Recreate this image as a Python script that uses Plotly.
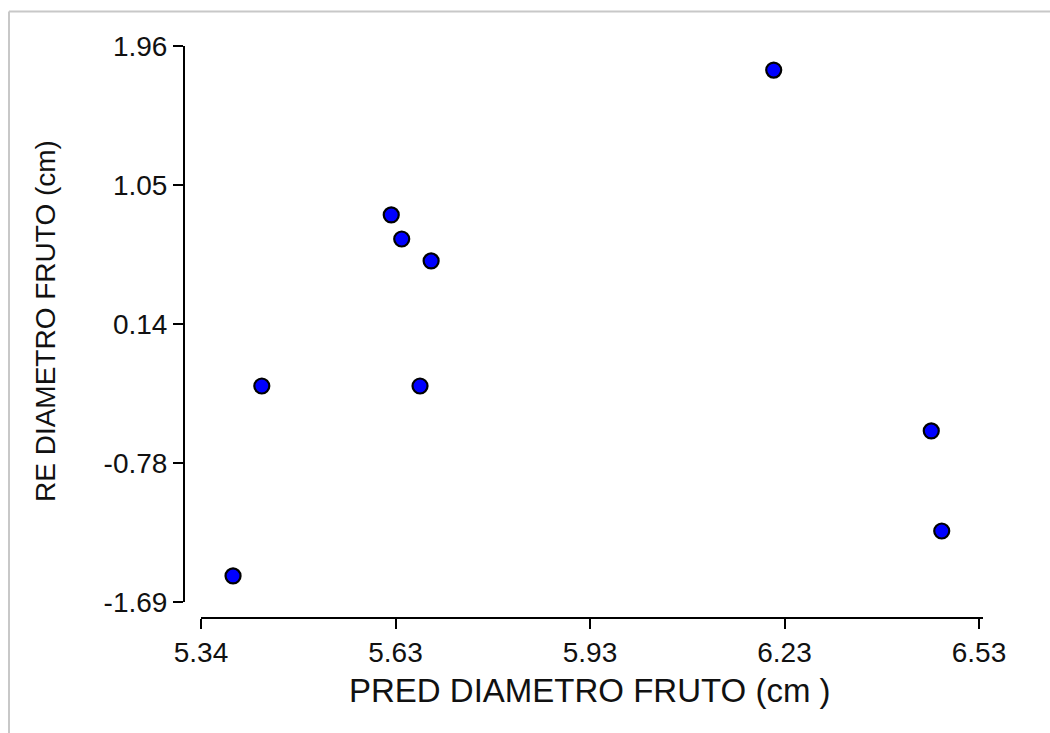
import plotly.graph_objects as go
import numpy as np

# Data
pred_diametro = [5.389, 5.433, 5.631, 5.647, 5.692, 5.675, 6.216, 6.457, 6.473]
re_diametro = [-1.519, -0.272, 0.851, 0.693, 0.549, -0.272, 1.802, -0.567, -1.224]

x_tick_labels = ["5.34", "5.63", "5.93", "6.23", "6.53"]
y_tick_labels = ["-1.69", "-0.78", "0.14", "1.05", "1.96"]
x_title = "PRED DIAMETRO FRUTO (cm )"
y_title = "RE DIAMETRO FRUTO (cm)"

W, H = 1050, 733
FONT = "Liberation Sans, Arial, sans-serif"

def fx(px):
    return px / W

def fy(py):
    return 1 - py / H

x_lo, x_hi = 5.34, 6.53
y_lo, y_hi = -1.69, 1.96
x_tickvals = list(np.linspace(x_lo, x_hi, len(x_tick_labels)))
y_tickvals = list(np.linspace(y_lo, y_hi, len(y_tick_labels)))

fig = go.Figure()
fig.add_trace(go.Scatter(
    x=pred_diametro, y=re_diametro, mode="markers",
    marker=dict(size=15, color="#0000FF", line=dict(color="black", width=2.2)),
    cliponaxis=False, showlegend=False,
))

px_per_unit = (979 - 201) / (x_hi - x_lo)
x_range_hi = x_lo + (983 - 201) / px_per_unit

fig.update_layout(
    template="none",
    width=W, height=H,
    margin=dict(l=0, r=0, t=0, b=0, pad=0, autoexpand=False),
    paper_bgcolor="white", plot_bgcolor="white",
    font=dict(family=FONT, color="black"),
    xaxis=dict(
        domain=[fx(201), fx(983)], range=[x_lo, x_range_hi],
        anchor="free", position=fy(617.5), automargin=False,
        tickmode="array", tickvals=x_tickvals, ticktext=x_tick_labels,
        ticks="outside", ticklen=10, tickwidth=2, tickcolor="black",
        showline=True, linewidth=2, linecolor="black",
        showgrid=False, zeroline=False,
        tickfont=dict(size=28, family=FONT, color="#111"),
    ),
    yaxis=dict(
        domain=[fy(602), fy(46)], range=[y_lo, y_hi],
        anchor="free", position=fx(184), automargin=False,
        tickmode="array", tickvals=y_tickvals, ticktext=y_tick_labels,
        ticks="outside", ticklen=10, tickwidth=2, tickcolor="black",
        showline=True, linewidth=2, linecolor="black",
        showgrid=False, zeroline=False,
        tickfont=dict(size=28, family=FONT, color="#111"),
    ),
    annotations=[
        dict(text=x_title, xref="paper", yref="paper", x=fx(590), y=fy(690),
             xanchor="center", yanchor="middle", showarrow=False,
             font=dict(size=33, family=FONT, color="#111")),
        dict(text=y_title, xref="paper", yref="paper", x=fx(45), y=fy(321),
             xanchor="center", yanchor="middle", showarrow=False, textangle=-90,
             font=dict(size=28, family=FONT, color="#111")),
    ],
    shapes=[
        dict(type="line", xref="paper", yref="paper", x0=fx(9), x1=fx(9),
             y0=0, y1=fy(11.5), line=dict(color="#c8c8c8", width=2)),
        dict(type="line", xref="paper", yref="paper", x0=fx(9), x1=1,
             y0=fy(11.5), y1=fy(11.5), line=dict(color="#c8c8c8", width=2)),
    ],
)

fig.write_html("out.html", config={"displayModeBar": False})
